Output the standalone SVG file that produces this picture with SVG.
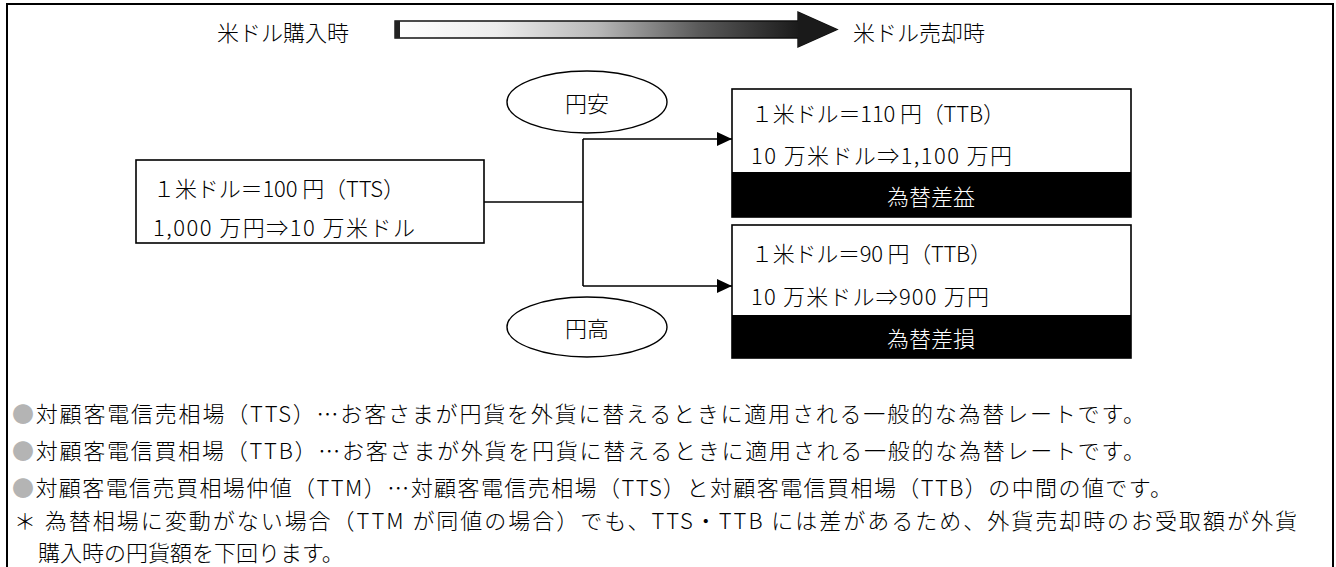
<svg xmlns="http://www.w3.org/2000/svg" width="1336" height="567" viewBox="0 0 1336 567">
<style>
text{font-family:"Noto Sans CJK JP","Noto Sans",sans-serif;font-size:22px;font-weight:300;fill:#000;dominant-baseline:central}
.w{fill:#fff}
.box{fill:#fff;stroke:#000;stroke-width:1.6}
.band{fill:#000}
.ell{fill:#fff;stroke:#000;stroke-width:1.4}
.con{fill:none;stroke:#000;stroke-width:1.6}
.dot{fill:#b4b4b4}
.note{font-size:22px}
</style>
<defs>
<linearGradient id="g" gradientUnits="userSpaceOnUse" x1="395" y1="0" x2="800" y2="0">
<stop offset="0" stop-color="#ffffff"/>
<stop offset="0.25" stop-color="#ececec"/>
<stop offset="0.5" stop-color="#b8b8b8"/>
<stop offset="0.75" stop-color="#5a5a5a"/>
<stop offset="1" stop-color="#1a1a1a"/>
</linearGradient>
<marker id="ah" markerWidth="16" markerHeight="14" refX="15" refY="7" orient="auto" markerUnits="userSpaceOnUse">
<path d="M0,0 L15,7 L0,14 Z" fill="#000"/>
</marker>
</defs>
<rect x="7" y="4" width="1326" height="600" fill="#fff" stroke="#000" stroke-width="2"/>
<g id="timeline">
<text x="217" y="31">米ドル購入時</text>
<path d="M395,21 H798 V12 L837,29.5 L798,47 V38 H395 Z" fill="url(#g)" stroke="#111" stroke-width="1.4"/>
<path d="M798,21 V12 L837,29.5 L798,47 V38 Z" fill="#1a1a1a"/>
<rect x="395" y="21" width="5" height="17" fill="#222"/>
<text x="853" y="31">米ドル売却時</text>
</g>
<g id="connectors">
<path class="con" d="M484,202 H583"/>
<path class="con" d="M583,139 V286"/>
<path class="con" d="M583,139 H732" marker-end="url(#ah)"/>
<path class="con" d="M583,286 H732" marker-end="url(#ah)"/>
</g>
<g id="yen-weak">
<ellipse class="ell" cx="587" cy="102" rx="80" ry="31"/>
<text x="587" y="102" text-anchor="middle">円安</text>
</g>
<g id="yen-strong">
<ellipse class="ell" cx="587" cy="327" rx="80" ry="30"/>
<text x="587" y="327" text-anchor="middle">円高</text>
</g>
<g id="buy">
<rect class="box" x="136" y="160" width="348" height="83"/>
<text x="153" y="187" textLength="252" lengthAdjust="spacing">１米ドル＝100 円（TTS）</text>
<text x="153" y="226" textLength="262" lengthAdjust="spacing">1,000 万円⇒10 万米ドル</text>
</g>
<g id="gain">
<rect class="box" x="732" y="89" width="399" height="128"/>
<rect class="band" x="732" y="172" width="399" height="45"/>
<text x="751" y="112" textLength="254" lengthAdjust="spacing">１米ドル＝110 円（TTB）</text>
<text x="751" y="154" textLength="261" lengthAdjust="spacing">10 万米ドル⇒1,100 万円</text>
<text class="w" x="931" y="195" text-anchor="middle">為替差益</text>
</g>
<g id="loss">
<rect class="box" x="732" y="225" width="399" height="133"/>
<rect class="band" x="732" y="315" width="399" height="43"/>
<text x="751" y="252" textLength="241" lengthAdjust="spacing">１米ドル＝90 円（TTB）</text>
<text x="751" y="295" textLength="238" lengthAdjust="spacing">10 万米ドル⇒900 万円</text>
<text class="w" x="931" y="337" text-anchor="middle">為替差損</text>
</g>
<g id="notes">
<text class="note" x="12" y="412" textLength="1133" lengthAdjust="spacing"><tspan class="dot">●</tspan>対顧客電信売相場（TTS）…お客さまが円貨を外貨に替えるときに適用される一般的な為替レートです。</text>
<text class="note" x="12" y="449" textLength="1133" lengthAdjust="spacing"><tspan class="dot">●</tspan>対顧客電信買相場（TTB）…お客さまが外貨を円貨に替えるときに適用される一般的な為替レートです。</text>
<text class="note" x="12" y="486" textLength="1160" lengthAdjust="spacing"><tspan class="dot">●</tspan>対顧客電信売買相場仲値（TTM）…対顧客電信売相場（TTS）と対顧客電信買相場（TTB）の中間の値です。</text>
<text class="note" x="14" y="519" textLength="1283" lengthAdjust="spacing">＊ 為替相場に変動がない場合（TTM が同値の場合）でも、TTS・TTB には差があるため、外貨売却時のお受取額が外貨</text>
<text class="note" x="38" y="551">購入時の円貨額を下回ります。</text>
</g>
</svg>
